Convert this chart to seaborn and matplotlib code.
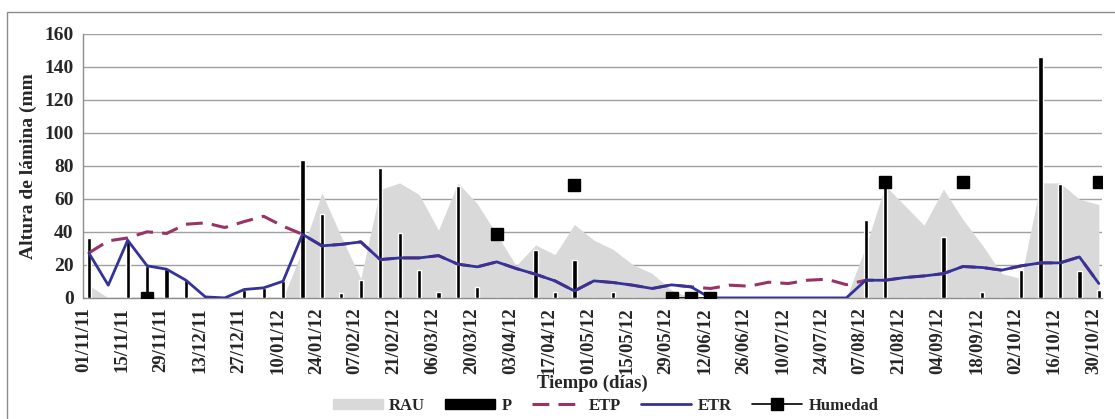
import numpy as np
import pandas as pd
import matplotlib
matplotlib.use("Agg")
import matplotlib.pyplot as plt
import matplotlib.dates as mdates
from matplotlib.patches import Rectangle
from matplotlib.lines import Line2D
from matplotlib.patches import Patch
import seaborn as sns

# datos semanales (53 semanas)
fechas = pd.date_range("2011-11-03", periods=53, freq="7D")

rau = [7.7, 0, 0, 0, 0, 0, 0, 0, 0, 0,
       0, 29, 63.5, 37, 11.7, 65.6, 69.6, 62.6, 41, 69.6,
       57, 38.5, 19.5, 32, 26.2, 44.4, 35, 29.3, 20.2, 14.8,
       4.7, 0, 0, 0, 0, 0, 0, 0, 0, 0,
       31, 68, 56, 44, 65.8, 47.5, 32, 14.7, 11.7, 69.6,
       69.6, 59.7, 56.5]

p = [36, 0, 35, 19.5, 17.5, 10.7, 0, 0, 4.7, 5.7,
     10, 83.5, 51, 3, 11, 78.5, 39, 17, 3.3, 67.5,
     6.5, 0, 0, 29, 3.3, 23, 0, 3.3, 0, 0,
     0, 0, 0, 0, 0, 0, 0, 0, 0, 0,
     47, 70, 0, 0, 37, 0, 3.3, 0, 17, 146,
     69, 16, 5]

etp = [27.2, 34.5, 36.3, 40, 39, 44.6, 45.4, 42.6, 46.2, 49.4,
       43.4, 38.5, 31.5, 32.4, 33.9, 23.2, 24.2, 24.2, 25.6, 20.4,
       18.8, 21.8, 17.8, 14.3, 10.3, 4.2, 10.3, 9.3, 7.7, 5.7,
       7.9, 6.7, 5.7, 7.7, 7.1, 9.5, 8.7, 10.7, 11.3, 8,
       10.7, 10.7, 12.3, 13.3, 14.7, 19.0, 18.4, 16.8, 19.4, 21.2,
       21.2, 24.8, 8.7]

etr = [27.2, 7.7, 34.9, 19.4, 17.4, 10.7, 0.6, 0, 5.1, 6.1,
       10.1, 38.5, 31.5, 32.4, 33.9, 23.2, 24.2, 24.2, 25.6, 20.4,
       18.8, 21.8, 17.8, 14.3, 10.3, 4.2, 10.3, 9.3, 7.7, 5.7,
       7.9, 6.7, 0, 0, 0, 0, 0, 0, 0, 0,
       10.7, 10.7, 12.3, 13.3, 14.7, 19.0, 18.4, 16.8, 19.4, 21.2,
       21.2, 24.8, 8.7]

n = np.nan
humedad = [n, n, n, 0, n, n, n, n, n, n,
           n, n, n, n, n, n, n, n, n, n,
           n, 38.5, n, n, n, 68.2, n, n, n, n,
           0, 0, 0, n, n, n, n, n, n, n,
           n, 70.2, n, n, n, 70.2, n, n, n, n,
           n, n, 70.2]

df = pd.DataFrame({"fecha": fechas, "RAU": rau, "P": p, "ETP": etp,
                   "ETR": etr, "Humedad": humedad})

col_rau = "#D9D9D9"
col_etp = "#993366"
col_etr = "#333399"

sns.set_style("white")
plt.rcParams["font.family"] = ["Liberation Serif", "DejaVu Serif"]
plt.rcParams["font.weight"] = "bold"

fig = plt.figure(figsize=(11.15, 4.19), dpi=100)
ax = fig.add_axes([0.0747, 0.289, 0.9133, 0.631])

ax.fill_between(df["fecha"], 0, df["RAU"], color=col_rau, lw=0, zorder=1)
ax.bar(df["fecha"], df["P"], width=1.5, color="black", zorder=3)
sns.lineplot(data=df, x="fecha", y="ETP", ax=ax, color=col_etp, lw=2.2,
             zorder=4)
ax.lines[-1].set_dashes([5.5, 3])
sns.lineplot(data=df, x="fecha", y="ETR", ax=ax, color=col_etr, lw=2.0, zorder=5)
ax.plot(df["fecha"], df["Humedad"], color="black", lw=1.2, marker="s",
        ms=8, zorder=6)

x0 = pd.Timestamp("2011-11-01")
ax.set_xlim(x0, x0 + pd.Timedelta(days=367))
ax.set_ylim(0, 160)
ax.set_yticks(range(0, 161, 20))
ax.set_xticks(pd.date_range("2011-11-01", "2012-10-30", freq="14D"))
ax.xaxis.set_major_formatter(mdates.DateFormatter("%d/%m/%y"))
ax.grid(axis="y", color="#A0A0A0", lw=1)
ax.grid(axis="x", visible=False)
ax.set_axisbelow(True)

for s in ["top", "right"]:
    ax.spines[s].set_visible(False)
for s in ["left", "bottom"]:
    ax.spines[s].set_color("#8C8C8C")
    ax.spines[s].set_linewidth(1)

ax.tick_params(axis="x", rotation=90, labelsize=13.5, direction="out",
               length=5, color="#8C8C8C", pad=2)
ax.tick_params(axis="y", labelsize=14, direction="out", length=5,
               color="#8C8C8C", pad=2)
for lab in ax.get_xticklabels() + ax.get_yticklabels():
    lab.set_fontweight("bold")

ax.set_xlabel("Tiempo (días)", fontsize=13.5, fontweight="bold", labelpad=0)
ax.set_ylabel("Altura de lámina (mm", fontsize=14, fontweight="bold", labelpad=5)

handles = [Patch(color=col_rau, label="RAU"),
           Patch(color="black", label="P"),
           Line2D([], [], color=col_etp, lw=2.2, dashes=[5.5, 3], label="ETP"),
           Line2D([], [], color=col_etr, lw=2.0, label="ETR"),
           Line2D([], [], color="black", lw=1.2, marker="s", ms=8, label="Humedad")]
fig.legend(handles=handles, loc="lower center", bbox_to_anchor=(0.543, -0.012),
           ncol=5, frameon=False, fontsize=12, handlelength=3.0,
           columnspacing=1.2, handletextpad=0.4, borderpad=0.1,
           handleheight=0.6)

# borde del área del gráfico
fig.patches.append(Rectangle((7 / 1115, -0.2), 1.2, 1.2 - 12 / 419,
                             transform=fig.transFigure, fill=False,
                             edgecolor="#8C8C8C", lw=1))

fig.savefig("out.png", dpi=100)
